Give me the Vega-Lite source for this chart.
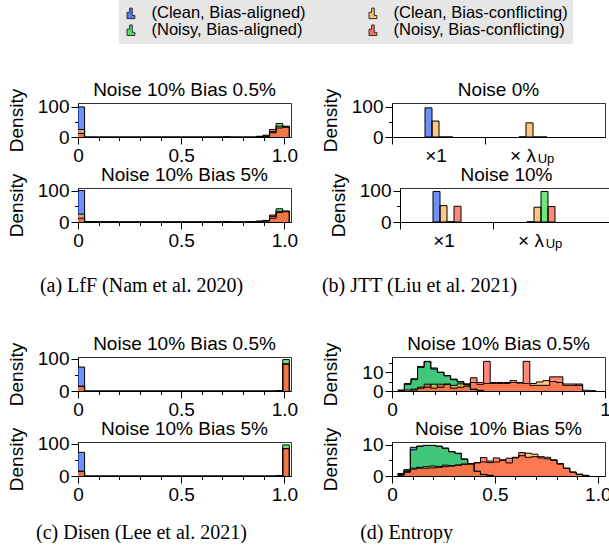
{
"$schema": "https://vega.github.io/schema/vega-lite/v6.json",
"padding": {"left": 6, "top": 0, "right": 0, "bottom": 0},
"datasets": {
"aTop": [
{"s":"ca","x":0,"d":100},{"s":"ca","x":0.032,"d":0},
{"s":"na","x":0.864,"d":2},{"s":"na","x":0.896,"d":6},{"s":"na","x":0.928,"d":14},{"s":"na","x":0.96,"d":45},{"s":"na","x":0.992,"d":33},{"s":"na","x":1.024,"d":0},
{"s":"cc","x":0,"d":25},{"s":"cc","x":0.032,"d":0},{"s":"cc","x":0.704,"d":1},{"s":"cc","x":0.736,"d":0},{"s":"cc","x":0.864,"d":2},{"s":"cc","x":0.896,"d":3},{"s":"cc","x":0.928,"d":18},{"s":"cc","x":0.96,"d":36},{"s":"cc","x":0.992,"d":36},{"s":"cc","x":1.024,"d":0},
{"s":"nc","x":0,"d":12},{"s":"nc","x":0.032,"d":0},{"s":"nc","x":0.896,"d":2},{"s":"nc","x":0.928,"d":25},{"s":"nc","x":0.96,"d":30},{"s":"nc","x":0.992,"d":33},{"s":"nc","x":1.024,"d":0}
],
"aBot": [
{"s":"ca","x":0,"d":100},{"s":"ca","x":0.032,"d":0},
{"s":"na","x":0.032,"d":1},{"s":"na","x":0.064,"d":0.5},{"s":"na","x":0.192,"d":0},{"s":"na","x":0.832,"d":1},{"s":"na","x":0.864,"d":3},{"s":"na","x":0.896,"d":5},{"s":"na","x":0.928,"d":12},{"s":"na","x":0.96,"d":42},{"s":"na","x":0.992,"d":33},{"s":"na","x":1.024,"d":0},
{"s":"cc","x":0,"d":25},{"s":"cc","x":0.032,"d":1},{"s":"cc","x":0.064,"d":0},{"s":"cc","x":0.704,"d":1.5},{"s":"cc","x":0.736,"d":0},{"s":"cc","x":0.864,"d":2},{"s":"cc","x":0.896,"d":4},{"s":"cc","x":0.928,"d":18},{"s":"cc","x":0.96,"d":34},{"s":"cc","x":0.992,"d":35},{"s":"cc","x":1.024,"d":0},
{"s":"nc","x":0,"d":12},{"s":"nc","x":0.032,"d":0},{"s":"nc","x":0.704,"d":1},{"s":"nc","x":0.736,"d":0},{"s":"nc","x":0.896,"d":3},{"s":"nc","x":0.928,"d":22},{"s":"nc","x":0.96,"d":30},{"s":"nc","x":0.992,"d":33},{"s":"nc","x":1.024,"d":0}
],
"cTop": [
{"s":"ca","x":0,"d":74},{"s":"ca","x":0.032,"d":0},
{"s":"na","x":0.96,"d":1},{"s":"na","x":0.992,"d":97},{"s":"na","x":1.024,"d":0},
{"s":"cc","x":0,"d":14},{"s":"cc","x":0.032,"d":0},{"s":"cc","x":0.96,"d":1},{"s":"cc","x":0.992,"d":84},{"s":"cc","x":1.024,"d":0},
{"s":"nc","x":0,"d":15},{"s":"nc","x":0.032,"d":0},{"s":"nc","x":0.992,"d":83},{"s":"nc","x":1.024,"d":0}
],
"cBot": [
{"s":"ca","x":0,"d":73},{"s":"ca","x":0.032,"d":0},
{"s":"na","x":0.96,"d":1},{"s":"na","x":0.992,"d":96},{"s":"na","x":1.024,"d":0},
{"s":"cc","x":0,"d":14},{"s":"cc","x":0.032,"d":0},{"s":"cc","x":0.96,"d":1},{"s":"cc","x":0.992,"d":85},{"s":"cc","x":1.024,"d":0},
{"s":"nc","x":0,"d":15},{"s":"nc","x":0.032,"d":0},{"s":"nc","x":0.992,"d":84},{"s":"nc","x":1.024,"d":0}
],
"dTop": [
{"s":"ca","x":0.027,"d":0.3},{"s":"ca","x":0.058,"d":3.5},{"s":"ca","x":0.089,"d":6},{"s":"ca","x":0.12,"d":12.5},{"s":"ca","x":0.151,"d":15.5},{"s":"ca","x":0.182,"d":12.2},{"s":"ca","x":0.213,"d":10},{"s":"ca","x":0.244,"d":8.2},{"s":"ca","x":0.275,"d":6},{"s":"ca","x":0.306,"d":4.8},{"s":"ca","x":0.337,"d":3.2},{"s":"ca","x":0.368,"d":1},{"s":"ca","x":0.399,"d":0.3},{"s":"ca","x":0.43,"d":0},
{"s":"na","x":0.027,"d":0.5},{"s":"na","x":0.058,"d":4},{"s":"na","x":0.089,"d":6.5},{"s":"na","x":0.12,"d":13},{"s":"na","x":0.151,"d":15.7},{"s":"na","x":0.182,"d":11.6},{"s":"na","x":0.213,"d":9.8},{"s":"na","x":0.244,"d":8},{"s":"na","x":0.275,"d":6.3},{"s":"na","x":0.306,"d":5},{"s":"na","x":0.337,"d":3.5},{"s":"na","x":0.368,"d":0.8},{"s":"na","x":0.399,"d":0.3},{"s":"na","x":0.43,"d":0},
{"s":"cc","x":0.058,"d":0.5},{"s":"cc","x":0.089,"d":1},{"s":"cc","x":0.12,"d":2},{"s":"cc","x":0.151,"d":2},{"s":"cc","x":0.182,"d":3.6},{"s":"cc","x":0.213,"d":2},{"s":"cc","x":0.244,"d":3.6},{"s":"cc","x":0.275,"d":3},{"s":"cc","x":0.306,"d":3.8},{"s":"cc","x":0.337,"d":3.8},{"s":"cc","x":0.368,"d":4.5},{"s":"cc","x":0.399,"d":3.5},{"s":"cc","x":0.43,"d":4},{"s":"cc","x":0.461,"d":4},{"s":"cc","x":0.492,"d":4},{"s":"cc","x":0.523,"d":4},{"s":"cc","x":0.554,"d":5.5},{"s":"cc","x":0.585,"d":4.2},{"s":"cc","x":0.616,"d":4},{"s":"cc","x":0.647,"d":4},{"s":"cc","x":0.678,"d":4.8},{"s":"cc","x":0.709,"d":5.5},{"s":"cc","x":0.74,"d":5},{"s":"cc","x":0.771,"d":4.5},{"s":"cc","x":0.802,"d":3.7},{"s":"cc","x":0.833,"d":3.7},{"s":"cc","x":0.864,"d":3},{"s":"cc","x":0.895,"d":0.4},{"s":"cc","x":0.926,"d":0.2},{"s":"cc","x":0.957,"d":0},
{"s":"nc","x":0.089,"d":0.5},{"s":"nc","x":0.12,"d":1.5},{"s":"nc","x":0.151,"d":3.6},{"s":"nc","x":0.182,"d":1.5},{"s":"nc","x":0.213,"d":3.6},{"s":"nc","x":0.244,"d":3.6},{"s":"nc","x":0.275,"d":1.5},{"s":"nc","x":0.306,"d":2},{"s":"nc","x":0.337,"d":2.5},{"s":"nc","x":0.368,"d":7},{"s":"nc","x":0.399,"d":4.5},{"s":"nc","x":0.43,"d":15.7},{"s":"nc","x":0.461,"d":4.5},{"s":"nc","x":0.492,"d":4.5},{"s":"nc","x":0.523,"d":4.5},{"s":"nc","x":0.554,"d":4.5},{"s":"nc","x":0.585,"d":4.5},{"s":"nc","x":0.616,"d":15.7},{"s":"nc","x":0.647,"d":3},{"s":"nc","x":0.678,"d":3},{"s":"nc","x":0.709,"d":3},{"s":"nc","x":0.74,"d":7.5},{"s":"nc","x":0.771,"d":7.5},{"s":"nc","x":0.802,"d":3},{"s":"nc","x":0.833,"d":3},{"s":"nc","x":0.864,"d":3.7},{"s":"nc","x":0.895,"d":0}
],
"dBot": [
{"s":"ca","x":0.027,"d":0.6},{"s":"ca","x":0.058,"d":2},{"s":"ca","x":0.089,"d":9.2},{"s":"ca","x":0.12,"d":9.6},{"s":"ca","x":0.151,"d":9.8},{"s":"ca","x":0.182,"d":9.8},{"s":"ca","x":0.213,"d":9.5},{"s":"ca","x":0.244,"d":8.8},{"s":"ca","x":0.275,"d":7.8},{"s":"ca","x":0.306,"d":7.3},{"s":"ca","x":0.337,"d":5.3},{"s":"ca","x":0.368,"d":3.8},{"s":"ca","x":0.399,"d":1.5},{"s":"ca","x":0.43,"d":0.5},{"s":"ca","x":0.461,"d":0.2},{"s":"ca","x":0.492,"d":0},
{"s":"na","x":0.027,"d":0.8},{"s":"na","x":0.058,"d":1.9},{"s":"na","x":0.089,"d":8.4},{"s":"na","x":0.12,"d":9.5},{"s":"na","x":0.151,"d":9.8},{"s":"na","x":0.182,"d":9.8},{"s":"na","x":0.213,"d":9.6},{"s":"na","x":0.244,"d":9},{"s":"na","x":0.275,"d":7.8},{"s":"na","x":0.306,"d":7.2},{"s":"na","x":0.337,"d":5.5},{"s":"na","x":0.368,"d":4},{"s":"na","x":0.399,"d":1.5},{"s":"na","x":0.43,"d":0.5},{"s":"na","x":0.461,"d":0.2},{"s":"na","x":0.492,"d":0},
{"s":"cc","x":0.027,"d":0.3},{"s":"cc","x":0.058,"d":1.2},{"s":"cc","x":0.089,"d":2.5},{"s":"cc","x":0.12,"d":2.8},{"s":"cc","x":0.151,"d":3},{"s":"cc","x":0.182,"d":3.2},{"s":"cc","x":0.213,"d":3},{"s":"cc","x":0.244,"d":3.5},{"s":"cc","x":0.275,"d":3.3},{"s":"cc","x":0.306,"d":3.5},{"s":"cc","x":0.337,"d":3.8},{"s":"cc","x":0.368,"d":4},{"s":"cc","x":0.399,"d":4.2},{"s":"cc","x":0.43,"d":4.5},{"s":"cc","x":0.461,"d":4.3},{"s":"cc","x":0.492,"d":4.5},{"s":"cc","x":0.523,"d":5},{"s":"cc","x":0.554,"d":4.2},{"s":"cc","x":0.585,"d":5.8},{"s":"cc","x":0.616,"d":6.5},{"s":"cc","x":0.647,"d":7.3},{"s":"cc","x":0.678,"d":7},{"s":"cc","x":0.709,"d":6.2},{"s":"cc","x":0.74,"d":6},{"s":"cc","x":0.771,"d":5},{"s":"cc","x":0.802,"d":3.8},{"s":"cc","x":0.833,"d":2.5},{"s":"cc","x":0.864,"d":1.3},{"s":"cc","x":0.895,"d":0.6},{"s":"cc","x":0.926,"d":0.2},{"s":"cc","x":0.957,"d":0},
{"s":"nc","x":0.027,"d":0.3},{"s":"nc","x":0.058,"d":1.5},{"s":"nc","x":0.089,"d":2.2},{"s":"nc","x":0.12,"d":2.5},{"s":"nc","x":0.151,"d":2.5},{"s":"nc","x":0.182,"d":2.6},{"s":"nc","x":0.213,"d":2.8},{"s":"nc","x":0.244,"d":3},{"s":"nc","x":0.275,"d":3.2},{"s":"nc","x":0.306,"d":3.5},{"s":"nc","x":0.337,"d":3.8},{"s":"nc","x":0.368,"d":4},{"s":"nc","x":0.399,"d":4.3},{"s":"nc","x":0.43,"d":5.9},{"s":"nc","x":0.461,"d":4.8},{"s":"nc","x":0.492,"d":5.8},{"s":"nc","x":0.523,"d":5.2},{"s":"nc","x":0.554,"d":5.7},{"s":"nc","x":0.585,"d":6},{"s":"nc","x":0.616,"d":7.5},{"s":"nc","x":0.647,"d":6},{"s":"nc","x":0.678,"d":6.2},{"s":"nc","x":0.709,"d":5.8},{"s":"nc","x":0.74,"d":5.5},{"s":"nc","x":0.771,"d":5.2},{"s":"nc","x":0.802,"d":4},{"s":"nc","x":0.833,"d":2.5},{"s":"nc","x":0.864,"d":1.2},{"s":"nc","x":0.895,"d":0.5},{"s":"nc","x":0.926,"d":0.2},{"s":"nc","x":0.957,"d":0}
],
"bTop": [
{"g":"×1","s":"ca","d":97},{"g":"×1","s":"cc","d":53},{"g":"×1","s":"na","d":0},{"g":"×1","s":"nc","d":0},
{"g":"× λ","s":"ca","d":0.5},{"g":"× λ","s":"cc","d":47},{"g":"× λ","s":"na","d":0},{"g":"× λ","s":"nc","d":0}
],
"bBot": [
{"g":"×1","s":"ca","d":97},{"g":"×1","s":"cc","d":52},{"g":"×1","s":"na","d":1},{"g":"×1","s":"nc","d":50},
{"g":"× λ","s":"ca","d":1},{"g":"× λ","s":"cc","d":47},{"g":"× λ","s":"na","d":97},{"g":"× λ","s":"nc","d":49}
]
},
"vconcat": [
{"vconcat": [
 {"hconcat": [
  {"width": 213, "height": 34, "title": "Noise 10% Bias 0.5%", "data": {"name": "aTop"},
   "layer": [
    {"mark": {"type": "area", "interpolate": "step-after", "fillOpacity": 0.7, "clip": true},
     "encoding": {
      "x": {"field": "x", "type": "quantitative", "scale": {"domain": [0, 1.032], "nice": false, "zero": false},
            "axis": {"values": [0,0.5,1], "labelExpr": "datum.value==0?'0':datum.label", "title": null}},
      "y": {"field": "d", "type": "quantitative", "stack": null, "scale": {"domain": [0, 113], "nice": false},
            "axis": {"values": [0,100], "title": "Density", "titleX": -52, "titleY": 17}},
      "color": {"field": "s", "type": "nominal", "scale": {"domain": ["ca","na","cc","nc"], "range": ["#3360f5","#2dde46","#ffb04a","#ff553e"]},
                "legend": {"title": null, "labelExpr": "datum.label=='ca'?'(Clean, Bias-aligned)':datum.label=='cc'?'(Clean, Bias-conflicting)':datum.label=='na'?'(Noisy, Bias-aligned)':'(Noisy, Bias-conflicting)'"}}
     }},
    {"mark": {"type": "line", "interpolate": "step-after", "color": "black", "strokeWidth": 1, "clip": true},
     "encoding": {
      "x": {"field": "x", "type": "quantitative", "axis": {"orient": "bottom", "values": [0.1,0.2,0.3,0.4,0.6,0.7,0.8,0.9], "labels": false, "domain": false, "tickSize": 3.5, "title": null}},
      "y": {"field": "d", "type": "quantitative", "axis": {"orient": "left", "values": [50], "labels": false, "domain": false, "tickSize": 3.5, "title": null}},
      "detail": {"field": "s"}}}
   ],
   "resolve": {"axis": {"x": "independent", "y": "independent"}}},
  {"width": 213, "height": 34, "title": "Noise 0%", "data": {"name": "bTop"},
   "layer": [
    {"mark": {"type": "bar", "fillOpacity": 0.7},
     "encoding": {
      "x": {"field": "g", "type": "nominal", "sort": ["×1","× λ"], "scale": {"domain": ["×1","× λ"], "paddingInner": 0, "paddingOuter": 0.133, "align": 0},
            "axis": {"orient": "bottom", "bandPosition": 0, "labelAngle": 0, "labelOffset": {"condition": {"test": "datum.value=='×1'", "value": -3}, "value": -10}, "title": null}},
      "xOffset": {"field": "s", "type": "nominal", "scale": {"domain": ["ca","cc","na","nc"], "range": [33, 61], "paddingInner": 0, "paddingOuter": 0}},
      "y": {"field": "d", "type": "quantitative", "scale": {"domain": [0, 113], "nice": false},
            "axis": {"values": [0,100], "title": "Density", "titleX": -52, "titleY": 17}},
      "color": {"field": "s", "type": "nominal", "scale": {"domain": ["ca","na","cc","nc"], "range": ["#3360f5","#2dde46","#ffb04a","#ff553e"]}}
     }},
    {"mark": {"type": "bar", "filled": false, "stroke": "black", "strokeWidth": 1},
     "encoding": {
      "x": {"field": "g", "type": "nominal", "sort": ["×1","× λ"],
            "axis": {"orient": "bottom", "labelAngle": 0, "ticks": false, "domain": false, "labelFontSize": 13, "labelPadding": 15.5, "labelOffset": 13, "labelExpr": "datum.value=='× λ'?'Up':''", "title": null}},
      "xOffset": {"field": "s", "type": "nominal"},
      "y": {"field": "d", "type": "quantitative", "axis": {"orient": "left", "values": [50], "labels": false, "domain": false, "tickSize": 3.5, "title": null}}
     }}
   ],
   "resolve": {"axis": {"x": "independent", "y": "independent"}}}
 ], "spacing": 21},
 {"hconcat": [
  {"width": 213, "height": 34, "title": "Noise 10% Bias 5%", "data": {"name": "aBot"},
   "layer": [
    {"mark": {"type": "area", "interpolate": "step-after", "fillOpacity": 0.7, "clip": true},
     "encoding": {
      "x": {"field": "x", "type": "quantitative", "scale": {"domain": [0, 1.032], "nice": false, "zero": false},
            "axis": {"values": [0,0.5,1], "labelExpr": "datum.value==0?'0':datum.label",
                     "title": "(a) LfF (Nam et al. 2020)", "titleFont": "Liberation Serif", "titleFontSize": 20, "titleX": 63, "titleY": 53, "titleBaseline": "top"}},
      "y": {"field": "d", "type": "quantitative", "stack": null, "scale": {"domain": [0, 108], "nice": false},
            "axis": {"values": [0,100], "title": "Density", "titleX": -52, "titleY": 17}},
      "color": {"field": "s", "type": "nominal", "scale": {"domain": ["ca","na","cc","nc"], "range": ["#3360f5","#2dde46","#ffb04a","#ff553e"]}}
     }},
    {"mark": {"type": "line", "interpolate": "step-after", "color": "black", "strokeWidth": 1, "clip": true},
     "encoding": {
      "x": {"field": "x", "type": "quantitative", "axis": {"orient": "bottom", "values": [0.1,0.2,0.3,0.4,0.6,0.7,0.8,0.9], "labels": false, "domain": false, "tickSize": 3.5, "title": null}},
      "y": {"field": "d", "type": "quantitative", "axis": {"orient": "left", "values": [50], "labels": false, "domain": false, "tickSize": 3.5, "title": null}},
      "detail": {"field": "s"}}}
   ],
   "resolve": {"axis": {"x": "independent", "y": "independent"}}},
  {"width": 213, "height": 34, "title": "Noise 10%", "data": {"name": "bBot"},
   "layer": [
    {"mark": {"type": "bar", "fillOpacity": 0.7},
     "encoding": {
      "x": {"field": "g", "type": "nominal", "sort": ["×1","× λ"], "scale": {"domain": ["×1","× λ"], "paddingInner": 0, "paddingOuter": 0.133, "align": 0},
            "axis": {"orient": "bottom", "bandPosition": 0, "labelAngle": 0, "labelOffset": {"condition": {"test": "datum.value=='×1'", "value": -3}, "value": -10},
                     "title": "(b) JTT (Liu et al. 2021)", "titleFont": "Liberation Serif", "titleFontSize": 20, "titleX": 19, "titleY": 53, "titleBaseline": "top"}},
      "xOffset": {"field": "s", "type": "nominal", "scale": {"domain": ["ca","cc","na","nc"], "range": [33, 61], "paddingInner": 0, "paddingOuter": 0}},
      "y": {"field": "d", "type": "quantitative", "scale": {"domain": [0, 108], "nice": false},
            "axis": {"values": [0,100], "title": "Density", "titleX": -52, "titleY": 17}},
      "color": {"field": "s", "type": "nominal", "scale": {"domain": ["ca","na","cc","nc"], "range": ["#3360f5","#2dde46","#ffb04a","#ff553e"]}}
     }},
    {"mark": {"type": "bar", "filled": false, "stroke": "black", "strokeWidth": 1},
     "encoding": {
      "x": {"field": "g", "type": "nominal", "sort": ["×1","× λ"],
            "axis": {"orient": "bottom", "labelAngle": 0, "ticks": false, "domain": false, "labelFontSize": 13, "labelPadding": 15.5, "labelOffset": 13, "labelExpr": "datum.value=='× λ'?'Up':''", "title": null}},
      "xOffset": {"field": "s", "type": "nominal"},
      "y": {"field": "d", "type": "quantitative", "axis": {"orient": "left", "values": [50], "labels": false, "domain": false, "tickSize": 3.5, "title": null}}
     }}
   ],
   "resolve": {"axis": {"x": "independent", "y": "independent"}}}
 ], "spacing": 21}
], "spacing": -1},
{"vconcat": [
 {"hconcat": [
  {"width": 213, "height": 34, "title": "Noise 10% Bias 0.5%", "data": {"name": "cTop"},
   "layer": [
    {"mark": {"type": "area", "interpolate": "step-after", "fillOpacity": 0.7, "clip": true},
     "encoding": {
      "x": {"field": "x", "type": "quantitative", "scale": {"domain": [0, 1.032], "nice": false, "zero": false},
            "axis": {"values": [0,0.5,1], "labelExpr": "datum.value==0?'0':datum.label", "title": null}},
      "y": {"field": "d", "type": "quantitative", "stack": null, "scale": {"domain": [0, 105], "nice": false},
            "axis": {"values": [0,100], "title": "Density", "titleX": -52, "titleY": 17}},
      "color": {"field": "s", "type": "nominal", "scale": {"domain": ["ca","na","cc","nc"], "range": ["#3360f5","#2dde46","#ffb04a","#ff553e"]}}
     }},
    {"mark": {"type": "line", "interpolate": "step-after", "color": "black", "strokeWidth": 1, "clip": true},
     "encoding": {
      "x": {"field": "x", "type": "quantitative", "axis": {"orient": "bottom", "values": [0.1,0.2,0.3,0.4,0.6,0.7,0.8,0.9], "labels": false, "domain": false, "tickSize": 3.5, "title": null}},
      "y": {"field": "d", "type": "quantitative", "axis": {"orient": "left", "values": [50], "labels": false, "domain": false, "tickSize": 3.5, "title": null}},
      "detail": {"field": "s"}}}
   ],
   "resolve": {"axis": {"x": "independent", "y": "independent"}}},
  {"width": 213, "height": 34, "title": "Noise 10% Bias 0.5%", "data": {"name": "dTop"},
   "layer": [
    {"mark": {"type": "area", "interpolate": "step-after", "fillOpacity": 0.7, "clip": true},
     "encoding": {
      "x": {"field": "x", "type": "quantitative", "scale": {"domain": [0, 1], "nice": false, "zero": false},
            "axis": {"values": [0,1], "labelExpr": "datum.value==0?'0':'1'", "title": null}},
      "y": {"field": "d", "type": "quantitative", "stack": null, "scale": {"domain": [0, 18], "nice": false},
            "axis": {"values": [0,10], "title": "Density", "titleX": -52, "titleY": 17}},
      "color": {"field": "s", "type": "nominal", "scale": {"domain": ["ca","na","cc","nc"], "range": ["#3360f5","#2dde46","#ffb04a","#ff553e"]}}
     }},
    {"mark": {"type": "line", "interpolate": "step-after", "color": "black", "strokeWidth": 1, "clip": true},
     "encoding": {
      "x": {"field": "x", "type": "quantitative", "axis": {"orient": "bottom", "values": [0.1,0.2,0.3,0.4,0.5,0.6,0.7,0.8,0.9], "labels": false, "domain": false, "tickSize": 3.5, "title": null}},
      "y": {"field": "d", "type": "quantitative", "axis": {"orient": "left", "values": [5,15], "labels": false, "domain": false, "tickSize": 3.5, "title": null}},
      "detail": {"field": "s"}}}
   ],
   "resolve": {"axis": {"x": "independent", "y": "independent"}}}
 ], "spacing": 21},
 {"hconcat": [
  {"width": 213, "height": 34, "title": "Noise 10% Bias 5%", "data": {"name": "cBot"},
   "layer": [
    {"mark": {"type": "area", "interpolate": "step-after", "fillOpacity": 0.7, "clip": true},
     "encoding": {
      "x": {"field": "x", "type": "quantitative", "scale": {"domain": [0, 1.032], "nice": false, "zero": false},
            "axis": {"values": [0,0.5,1], "labelExpr": "datum.value==0?'0':datum.label",
                     "title": "(c) Disen (Lee et al. 2021)", "titleFont": "Liberation Serif", "titleFontSize": 20, "titleX": 63, "titleY": 46, "titleBaseline": "top"}},
      "y": {"field": "d", "type": "quantitative", "stack": null, "scale": {"domain": [0, 105], "nice": false},
            "axis": {"values": [0,100], "title": "Density", "titleX": -52, "titleY": 17}},
      "color": {"field": "s", "type": "nominal", "scale": {"domain": ["ca","na","cc","nc"], "range": ["#3360f5","#2dde46","#ffb04a","#ff553e"]}}
     }},
    {"mark": {"type": "line", "interpolate": "step-after", "color": "black", "strokeWidth": 1, "clip": true},
     "encoding": {
      "x": {"field": "x", "type": "quantitative", "axis": {"orient": "bottom", "values": [0.1,0.2,0.3,0.4,0.6,0.7,0.8,0.9], "labels": false, "domain": false, "tickSize": 3.5, "title": null}},
      "y": {"field": "d", "type": "quantitative", "axis": {"orient": "left", "values": [50], "labels": false, "domain": false, "tickSize": 3.5, "title": null}},
      "detail": {"field": "s"}}}
   ],
   "resolve": {"axis": {"x": "independent", "y": "independent"}}},
  {"width": 213, "height": 34, "title": "Noise 10% Bias 5%", "data": {"name": "dBot"},
   "layer": [
    {"mark": {"type": "area", "interpolate": "step-after", "fillOpacity": 0.7, "clip": true},
     "encoding": {
      "x": {"field": "x", "type": "quantitative", "scale": {"domain": [0, 1.035], "nice": false, "zero": false},
            "axis": {"values": [0,0.5,1], "labelExpr": "datum.value==0?'0':datum.label",
                     "title": "(d) Entropy", "titleFont": "Liberation Serif", "titleFontSize": 20, "titleX": 14, "titleY": 46, "titleBaseline": "top"}},
      "y": {"field": "d", "type": "quantitative", "stack": null, "scale": {"domain": [0, 10.9], "nice": false},
            "axis": {"values": [0,10], "title": "Density", "titleX": -52, "titleY": 17}},
      "color": {"field": "s", "type": "nominal", "scale": {"domain": ["ca","na","cc","nc"], "range": ["#3360f5","#2dde46","#ffb04a","#ff553e"]}}
     }},
    {"mark": {"type": "line", "interpolate": "step-after", "color": "black", "strokeWidth": 1, "clip": true},
     "encoding": {
      "x": {"field": "x", "type": "quantitative", "axis": {"orient": "bottom", "values": [0.1,0.2,0.3,0.4,0.6,0.7,0.8,0.9], "labels": false, "domain": false, "tickSize": 3.5, "title": null}},
      "y": {"field": "d", "type": "quantitative", "axis": {"orient": "left", "values": [5], "labels": false, "domain": false, "tickSize": 3.5, "title": null}},
      "detail": {"field": "s"}}}
   ],
   "resolve": {"axis": {"x": "independent", "y": "independent"}}}
 ], "spacing": 21}
], "spacing": -1}
],
"spacing": 38,
"config": {
 "font": "Liberation Sans",
 "view": {"stroke": "#333333", "strokeWidth": 1},
 "title": {"fontSize": 19, "fontWeight": "normal", "font": "Liberation Sans", "color": "black", "offset": -12},
 "axis": {"domainColor": "black", "tickColor": "black", "labelColor": "black", "titleColor": "black", "labelFontSize": 19, "titleFontSize": 19, "labelFont": "Liberation Sans", "titleFont": "Liberation Sans", "titleFontWeight": "normal", "grid": false, "labelFlush": false, "labelOverlap": false, "labelPadding": 2, "tickSize": 7, "titlePadding": 4},
 "legend": {"orient": "none", "legendX": 41, "legendY": -103, "columns": 2, "columnPadding": 60, "rowPadding": 0, "labelFontSize": 16.5, "labelFont": "Liberation Sans", "labelColor": "black", "labelLimit": 400, "labelOffset": 11, "symbolType": "M-1,1L-1,-0.2L-0.5,-0.2L-0.5,-1L0,-1L0,0.4L0.5,0.4L0.5,1Z", "symbolSize": 110, "symbolStrokeColor": "black", "symbolStrokeWidth": 1, "symbolOpacity": 0.8, "fillColor": "#e6e6e6", "padding": 5}
}
}
